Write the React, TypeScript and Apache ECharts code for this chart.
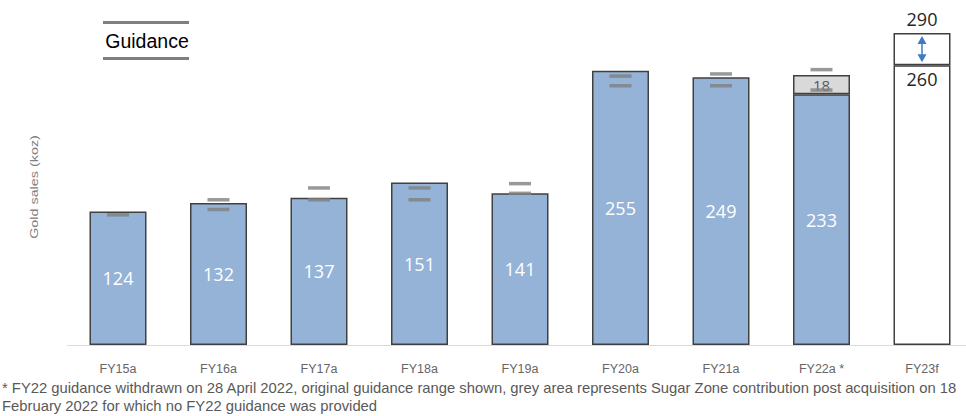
import React, { useEffect, useRef } from "react";
import * as echarts from "echarts";

const categories = ["FY15a", "FY16a", "FY17a", "FY18a", "FY19a", "FY20a", "FY21a", "FY22a *", "FY23f"];
const goldSales = [124, 132, 137, 151, 141, 255, 249, 233, null];
const sugarZone = [null, null, null, null, null, null, null, 18, null];
const forecastLow = [null, null, null, null, null, null, null, null, 260];
const forecastHigh = [null, null, null, null, null, null, null, null, 290];
const guidanceLow = [121, 126, 135, 135, 141, 241, 241, 237, null];
const guidanceHigh = [null, 135, 146, 146, 150, 250, 252, 256, null];
const footnoteLines = [
  "* FY22 guidance withdrawn on 28 April 2022, original guidance range shown, grey area represents Sugar Zone contribution post acquisition on 18",
  "February 2022 for which no FY22 guidance was provided",
];

const dash = (v: number | null) => (v == null ? "-" : v);

export default function App() {
  const ref = useRef<HTMLDivElement>(null);
  useEffect(() => {
    if (!ref.current) return;
    const chart = echarts.init(ref.current, null, { renderer: "svg" });
    const border = "#404040";
    const valueFont = "'Open Sans', 'Noto Sans', sans-serif";
    const sans = "'Liberation Sans', Arial, sans-serif";
    const rangeData = forecastHigh.map((h, i) => (h == null || forecastLow[i] == null ? "-" : h - (forecastLow[i] as number)));
    const arrowData = forecastLow
      .map((lo, i) => (lo == null ? null : [i, lo, forecastHigh[i]]))
      .filter((d) => d != null);
    chart.setOption({
      animation: false,
      grid: { left: 67.75, top: 22.3, bottom: 71, width: 904.5 },
      xAxis: {
        type: "category",
        data: categories,
        axisLine: { lineStyle: { color: "#d9d9d9", width: 1 } },
        axisTick: { show: false },
        axisLabel: { color: "#666666", fontSize: 12.5, margin: 17, fontFamily: sans },
      },
      yAxis: { type: "value", min: 0, max: 300, show: false, splitLine: { show: false } },
      series: [
        {
          name: "Gold sales",
          type: "bar",
          stack: "total",
          barWidth: 57,
          data: goldSales.map(dash),
          itemStyle: { color: "#95B3D7", borderColor: border, borderWidth: 1.5 },
          label: { show: true, position: "inside", color: "#ffffff", fontSize: 18, fontFamily: valueFont },
        },
        {
          name: "Sugar Zone",
          type: "bar",
          stack: "total",
          barWidth: 57,
          data: sugarZone.map(dash),
          itemStyle: { color: "#D9D9D9", borderColor: border, borderWidth: 1.5 },
          label: { show: true, position: "inside", color: "#595959", fontSize: 15, fontFamily: valueFont },
        },
        {
          name: "Forecast low",
          type: "bar",
          stack: "total",
          barWidth: 57,
          data: forecastLow.map(dash),
          itemStyle: { color: "#ffffff", borderColor: border, borderWidth: 1.5 },
          label: { show: true, position: "insideTop", distance: 5, color: "#262626", fontSize: 18, fontFamily: valueFont },
        },
        {
          name: "Forecast range",
          type: "bar",
          stack: "total",
          barWidth: 57,
          data: rangeData,
          itemStyle: { color: "#ffffff", borderColor: border, borderWidth: 1.5 },
          label: {
            show: true,
            position: "top",
            distance: 5,
            color: "#262626",
            fontSize: 18,
            fontFamily: valueFont,
            formatter: (p: any) => String(forecastHigh[p.dataIndex]),
          },
        },
        {
          name: "Guidance low",
          type: "scatter",
          symbol: "rect",
          symbolSize: [22, 3.5],
          data: guidanceLow.map(dash),
          itemStyle: { color: "#808080" },
          z: 5,
        },
        {
          name: "Guidance high",
          type: "scatter",
          symbol: "rect",
          symbolSize: [22, 3.5],
          data: guidanceHigh.map(dash),
          itemStyle: { color: "#808080" },
          z: 5,
        },
        {
          name: "Forecast arrow",
          type: "custom",
          data: arrowData,
          encode: { x: 0, y: [1, 2] },
          z: 6,
          renderItem: (params: any, api: any) => {
            const top = api.coord([api.value(0), api.value(2)]);
            const bot = api.coord([api.value(0), api.value(1)]);
            const x = top[0];
            const y1 = top[1] + 3;
            const y2 = bot[1] - 3;
            const c = "#3E7BC4";
            return {
              type: "group",
              children: [
                { type: "line", shape: { x1: x, y1: y1 + 6, x2: x, y2: y2 - 6 }, style: { stroke: c, lineWidth: 1.5 } },
                { type: "polygon", shape: { points: [[x, y1], [x - 4.5, y1 + 8], [x + 4.5, y1 + 8]] }, style: { fill: c } },
                { type: "polygon", shape: { points: [[x, y2], [x - 4.5, y2 - 8], [x + 4.5, y2 - 8]] }, style: { fill: c } },
              ],
            };
          },
        },
      ],
      graphic: [
        { type: "line", shape: { x1: 103, y1: 22.5, x2: 189, y2: 22.5 }, style: { stroke: "#7f7f7f", lineWidth: 3 } },
        { type: "line", shape: { x1: 103, y1: 58.5, x2: 189, y2: 58.5 }, style: { stroke: "#7f7f7f", lineWidth: 3 } },
        {
          type: "text",
          x: 147,
          y: 41,
          style: { text: "Guidance", fill: "#000000", fontSize: 19.5, fontFamily: sans, textAlign: "center", textVerticalAlign: "middle" },
        },
        {
          type: "text",
          x: 34,
          y: 187,
          rotation: Math.PI / 2,
          scaleX: 1.25,
          style: { text: "Gold sales (koz)", fill: "#808080", fontSize: 11.5, fontFamily: sans, textAlign: "center", textVerticalAlign: "middle" },
        },
        ...footnoteLines.map((t, i) => ({
          type: "text",
          x: 2,
          y: 388 + i * 18,
          style: { text: t, fill: "#595959", fontSize: 14.8, fontFamily: sans, textAlign: "left", textVerticalAlign: "middle" },
        })),
      ],
    });
    return () => chart.dispose();
  }, []);
  return (
    <div style={{ position: "fixed", left: 0, top: 0, width: 966, height: 416, overflow: "hidden", background: "#ffffff" }}>
      <div ref={ref} style={{ width: 980, height: 416 }} />
    </div>
  );
}
